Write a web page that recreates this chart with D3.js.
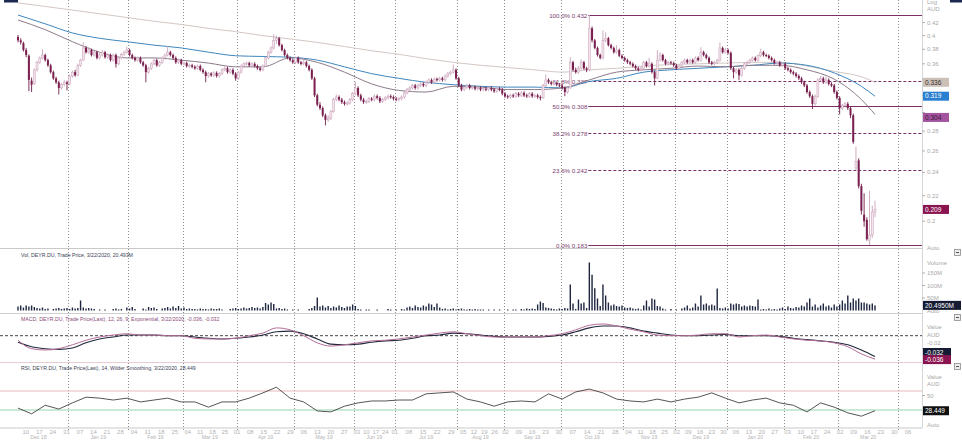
<!DOCTYPE html>
<html><head><meta charset="utf-8">
<script src="https://cdn.jsdelivr.net/npm/d3@7"></script>
<style>body{margin:0;background:#fff}svg{display:block;font-family:"Liberation Sans",Arial,sans-serif}</style>
</head><body><svg id="c" width="962" height="440"></svg>
<script>
// ---------- DATA ----------
// daily candles [open, high, low, close] (AUD), index 0 = early Dec 2018 ... 315 = 3/22/2020
const ohlc = [
[.398,.401,.390,.393],[.393,.396,.387,.390],[.389,.391,.377,.379],[.379,.382,.369,.372],[.371,.373,.325,.339],
[.338,.342,.324,.333],[.334,.354,.333,.352],[.352,.364,.350,.362],[.362,.370,.360,.368],[.368,.380,.366,.372],
[.372,.374,.363,.365],[.365,.367,.356,.358],[.358,.360,.347,.349],[.349,.351,.339,.341],[.341,.343,.334,.336],
[.336,.338,.321,.329],[.329,.335,.327,.333],[.333,.339,.331,.336],[.336,.338,.326,.334],[.334,.346,.332,.344],
[.344,.351,.342,.349],[.349,.352,.343,.345],[.345,.360,.344,.358],[.358,.367,.356,.365],[.365,.390,.364,.382],
[.382,.385,.374,.376],[.376,.383,.374,.379],[.379,.381,.370,.372],[.372,.378,.370,.376],[.376,.378,.366,.368],
[.368,.375,.366,.372],[.372,.379,.370,.376],[.376,.378,.367,.369],[.369,.374,.367,.372],[.372,.374,.363,.365],
[.365,.374,.363,.372],[.372,.374,.355,.360],[.360,.370,.358,.368],[.368,.375,.366,.373],[.373,.378,.371,.376],
[.376,.384,.374,.379],[.379,.381,.370,.372],[.372,.374,.366,.368],[.368,.370,.363,.365],[.365,.370,.363,.368],
[.368,.370,.360,.362],[.362,.364,.356,.358],[.358,.360,.336,.349],[.349,.356,.347,.354],[.354,.362,.352,.360],
[.360,.367,.358,.365],[.365,.367,.356,.358],[.358,.364,.356,.362],[.362,.370,.360,.368],[.368,.374,.366,.372],
[.372,.384,.370,.376],[.376,.378,.370,.372],[.372,.374,.366,.368],[.368,.370,.360,.362],[.362,.367,.360,.365],
[.365,.367,.358,.360],[.360,.363,.358,.361],[.361,.363,.355,.357],[.357,.360,.355,.358],[.358,.360,.354,.356],
[.356,.358,.352,.354],[.354,.359,.352,.357],[.357,.359,.350,.352],[.352,.354,.347,.349],[.349,.351,.336,.344],
[.344,.349,.342,.347],[.347,.349,.343,.345],[.345,.350,.343,.348],[.348,.350,.342,.344],[.344,.349,.342,.347],
[.347,.354,.345,.352],[.352,.356,.350,.354],[.354,.356,.347,.349],[.349,.354,.347,.352],[.352,.354,.345,.347],
[.347,.349,.338,.341],[.341,.351,.339,.349],[.349,.359,.347,.357],[.357,.362,.355,.360],[.360,.363,.358,.361],
[.361,.363,.356,.358],[.358,.362,.356,.360],[.360,.362,.355,.357],[.357,.359,.352,.354],[.354,.356,.350,.352],
[.352,.359,.350,.357],[.357,.370,.356,.368],[.368,.378,.366,.376],[.376,.384,.374,.382],[.382,.402,.380,.393],
[.393,.400,.388,.396],[.396,.398,.384,.386],[.386,.388,.377,.379],[.379,.381,.370,.372],[.372,.374,.366,.368],
[.368,.370,.363,.365],[.365,.367,.360,.362],[.362,.370,.360,.368],[.368,.370,.360,.362],[.362,.364,.358,.360],
[.360,.365,.358,.362],[.362,.364,.355,.357],[.357,.359,.350,.352],[.352,.354,.339,.341],[.341,.343,.318,.320],
[.320,.322,.307,.309],[.309,.312,.303,.305],[.305,.307,.295,.297],[.297,.299,.286,.292],[.292,.297,.290,.294],
[.294,.303,.292,.301],[.301,.317,.300,.315],[.315,.321,.313,.318],[.318,.320,.313,.315],[.315,.317,.310,.312],
[.312,.314,.308,.310],[.310,.313,.308,.311],[.311,.317,.309,.315],[.315,.324,.313,.322],[.322,.337,.320,.329],
[.329,.331,.318,.320],[.320,.322,.313,.315],[.315,.317,.310,.312],[.312,.315,.310,.313],[.313,.318,.311,.316],
[.316,.318,.313,.315],[.315,.321,.313,.319],[.319,.321,.315,.317],[.317,.319,.311,.313],[.313,.317,.311,.315],
[.315,.319,.313,.317],[.317,.321,.315,.319],[.319,.321,.316,.318],[.318,.320,.314,.316],[.316,.318,.313,.315],
[.315,.318,.313,.316],[.316,.320,.314,.318],[.318,.325,.316,.323],[.323,.329,.321,.327],[.327,.331,.325,.329],
[.329,.334,.327,.332],[.332,.334,.327,.329],[.329,.334,.327,.332],[.332,.336,.330,.334],[.334,.336,.330,.332],
[.332,.338,.330,.336],[.336,.341,.334,.339],[.339,.341,.334,.336],[.336,.342,.334,.340],[.340,.342,.337,.339],
[.339,.343,.337,.341],[.341,.343,.337,.339],[.339,.346,.337,.344],[.344,.349,.342,.347],[.347,.351,.345,.349],
[.349,.359,.347,.352],[.352,.354,.339,.341],[.341,.343,.330,.332],[.332,.334,.325,.327],[.327,.332,.325,.330],
[.330,.334,.328,.332],[.332,.334,.327,.329],[.329,.332,.327,.330],[.330,.332,.326,.328],[.328,.331,.326,.329],
[.329,.331,.325,.327],[.327,.330,.325,.328],[.328,.330,.325,.327],[.327,.331,.325,.329],[.329,.331,.325,.327],
[.327,.329,.323,.325],[.325,.330,.323,.328],[.328,.330,.325,.327],[.327,.329,.320,.322],[.322,.324,.317,.319],
[.319,.321,.316,.318],[.318,.322,.316,.320],[.320,.322,.317,.319],[.319,.324,.317,.322],[.322,.324,.318,.320],
[.320,.325,.318,.323],[.323,.325,.318,.320],[.320,.322,.317,.319],[.319,.324,.317,.322],[.322,.324,.317,.319],
[.319,.322,.317,.320],[.320,.322,.316,.318],[.318,.320,.314,.317],[.317,.334,.316,.332],[.332,.346,.330,.339],
[.339,.341,.334,.336],[.336,.338,.332,.334],[.334,.337,.332,.335],[.335,.337,.331,.333],[.333,.335,.330,.332],
[.332,.334,.327,.329],[.329,.331,.319,.324],[.324,.331,.322,.329],[.329,.369,.328,.362],[.362,.364,.350,.352],
[.352,.355,.347,.349],[.349,.357,.347,.354],[.354,.366,.352,.362],[.362,.364,.352,.354],[.354,.356,.349,.352],
[.352,.432,.350,.411],[.411,.414,.390,.393],[.393,.395,.380,.382],[.382,.384,.370,.372],[.372,.374,.366,.368],
[.368,.408,.366,.393],[.393,.405,.390,.396],[.396,.398,.384,.386],[.386,.388,.380,.382],[.382,.384,.374,.376],
[.376,.386,.374,.379],[.379,.381,.369,.371],[.371,.373,.366,.368],[.368,.370,.363,.365],[.365,.367,.360,.362],
[.362,.364,.358,.360],[.360,.362,.355,.357],[.357,.359,.352,.354],[.354,.356,.350,.352],[.352,.357,.350,.354],
[.354,.364,.352,.362],[.362,.364,.355,.357],[.357,.368,.355,.360],[.360,.362,.347,.349],[.349,.351,.332,.341],
[.341,.379,.340,.365],[.365,.376,.363,.372],[.372,.374,.363,.365],[.365,.367,.358,.360],[.360,.364,.358,.362],
[.362,.364,.359,.361],[.361,.363,.356,.358],[.358,.360,.352,.354],[.354,.359,.352,.357],[.357,.364,.355,.362],
[.362,.367,.360,.365],[.365,.367,.360,.362],[.362,.367,.360,.365],[.365,.367,.360,.362],[.362,.370,.360,.368],
[.368,.370,.363,.365],[.365,.383,.363,.376],[.376,.378,.370,.372],[.372,.374,.366,.368],[.368,.370,.360,.362],
[.362,.364,.358,.360],[.360,.364,.358,.362],[.362,.367,.360,.365],[.365,.390,.363,.382],[.382,.384,.374,.376],
[.376,.382,.374,.379],[.379,.381,.373,.375],[.375,.377,.352,.354],[.354,.356,.341,.349],[.349,.354,.347,.352],
[.352,.354,.339,.345],[.345,.356,.343,.354],[.354,.362,.352,.360],[.360,.364,.358,.362],[.362,.367,.360,.365],
[.365,.370,.363,.368],[.368,.370,.363,.365],[.365,.373,.363,.371],[.371,.381,.369,.376],[.376,.378,.370,.372],
[.372,.374,.369,.371],[.371,.373,.366,.368],[.368,.370,.363,.365],[.365,.367,.359,.361],[.361,.364,.359,.362],
[.362,.364,.356,.358],[.358,.362,.356,.360],[.360,.362,.352,.354],[.354,.356,.350,.352],[.352,.354,.347,.349],
[.349,.351,.345,.347],[.347,.349,.342,.344],[.344,.346,.339,.341],[.341,.343,.334,.336],[.336,.338,.330,.332],
[.332,.334,.322,.324],[.324,.326,.317,.319],[.319,.321,.304,.310],[.310,.321,.308,.319],[.319,.341,.317,.339],
[.339,.344,.337,.341],[.341,.343,.334,.336],[.336,.343,.334,.339],[.339,.341,.332,.334],[.334,.336,.330,.332],
[.332,.334,.322,.324],[.324,.326,.315,.317],[.317,.319,.298,.305],[.305,.310,.303,.308],[.308,.312,.306,.310],
[.310,.312,.303,.305],[.305,.307,.294,.297],[.297,.299,.267,.269],[.244,.264,.242,.250],[.251,.253,.226,.228],
[.228,.230,.205,.208],[.205,.222,.196,.200],[.201,.203,.186,.187],[.186,.224,.183,.190],[.190,.212,.188,.207],
[.207,.216,.203,.209]
];
// volume, millions
const volume = [
16,20,12,20,16,20,14, 10,8,12,6,8,0,6,8,10,6,8,10,6,12,8,10, 40, 12,8,10,8,6, 0,4,0, 4,0,0,6,8,4,6,0,
12,8,14,6, 0,0, 8,4,14,10,12, 6,0,8, 10,14,8,16,10,18,8,12,6, 8,6,6,4,8,6,6,4,8,6,6,8,4, 0,0,
6,8,10,6,8,12,8,10,14,10,12,8,14, 30,24,32,26, 8,10,6,8, 4,0,4,0,4, 0,0,0, 6,10,18,52,16,
20,12,18,10,16,12,20,14,10,16, 16,24,18, 6,4,0,4,4,0, 0,4,0,0,0,6,4,0, 4,0,6,4,
12,16,10,20,14,12,20,16,28,24,14,28,12, 6,8,4,6,8,4,6,8,4,4,6,4,6,4,4, 4,0,4,0,4,
0,4,0,0,4,0,4,4,0,6,4,8,6,8,6, 24,36,30, 12,10,8,6,4,8, 6,10,8, 104,28,6,44,28,32,10,
192,143,89,48,18,104,60,32,20,24,18,16,20,12,10,12,8, 6,8,4, 20,40,16,48,44,18,16,8, 4,0,6,0,4,0,
8,12,20,8,12,28,16,60, 24,28,20,24,20, 88, 10,8,12,8, 28,24,28,26, 16,20,16,20,18,16, 44,
4,6,4,8,4,6,4, 8,12,6,16,10,8,14, 12,20,16,32, 48, 16,24,12,20, 28, 16,20,12,24, 16,24,
40,28,60,32,48,40,48,32,32,28,24,28,20.493
];
// moving averages read every 10 sessions (+ last)
const maIdx = [0,10,20,30,40,50,60,70,80,90,100,110,120,130,140,150,160,170,180,190,200,210,220,230,240,250,260,270,280,290,300,310,315];
const maLong = [.452,.446,.440,.434,.428,.422,.417,.411,.406,.400,.395,.390,.384,.378,.373,.367,.362,.358,.355,.352,.349,.352,.354,.357,.359,.360,.361,.362,.362,.357,.350,.343,.336];
const maMid = [.432,.418,.404,.396,.391,.386,.382,.376,.371,.370,.369,.365,.356,.347,.341,.336,.333,.331,.330,.330,.329,.337,.341,.349,.352,.354,.356,.358,.361,.358,.348,.331,.319];
const maShort = [.424,.409,.391,.376,.368,.368,.365,.361,.356,.356,.368,.362,.349,.334,.326,.324,.331,.330,.327,.327,.329,.339,.349,.352,.354,.357,.356,.358,.358,.352,.340,.315,.298];
const maTags = ["0.336","0.319","0.304"];
// indicators read every 5 sessions
const macd = [-0.007,-0.020,-0.022,-0.020,-0.014,-0.007,-0.002,0.001,0.003,0.001,0.001,0,0,-0.004,-0.005,-0.005,-0.004,0,0.004,0.012,0.009,0,-0.011,-0.016,-0.014,-0.011,-0.008,-0.007,-0.005,-0.002,0.001,0.004,0.006,0.003,0,-0.002,-0.002,-0.002,-0.002,0,0.003,0.009,0.016,0.018,0.015,0.010,0.006,0.001,0,0,0.001,0.003,0.003,-0.002,0,0.001,-0.002,-0.005,-0.007,-0.008,-0.011,-0.017,-0.028,-0.036];
const signal = [-0.010,-0.017,-0.020,-0.021,-0.019,-0.011,-0.005,-0.002,0.001,0.001,0.001,0,0,-0.002,-0.004,-0.005,-0.004,-0.002,0.001,0.006,0.007,0.003,-0.005,-0.013,-0.014,-0.013,-0.010,-0.008,-0.007,-0.004,0,0.001,0.004,0.003,0.001,-0.001,-0.002,-0.002,-0.002,-0.001,0.001,0.006,0.012,0.015,0.015,0.012,0.007,0.004,0.001,0,0,0.001,0.002,0,0,0,-0.001,-0.004,-0.006,-0.008,-0.010,-0.014,-0.022,-0.032];
const rsi = [34,22,40,32,45,57,55,51,55,47,51,55,47,47,36,47,47,55,66,78,55,47,28,26,38,45,49,49,51,51,64,66,68,53,47,38,47,49,47,64,53,68,74,66,53,49,47,53,47,53,57,66,55,45,51,55,45,40,26,45,36,24,17,28.449];
// fibonacci retracement
const fibPct = ["100.0%","61.8%","50.0%","38.2%","23.6%","0.0%"];
const fibVal = [0.432,0.337,0.308,0.278,0.242,0.183];
const fibStartIdx = 210;
// axes
const priceTicks = ["0.42","0.4","0.38","0.36","0.34","0.32","0.3","0.28","0.26","0.24","0.22","0.2"];
const volTicks = [150,100,50];
const monthLabels = ["Dec 18","Jan 19","Feb 19","Mar 19","Apr 19","May 19","Jun 19","Jul 19","Aug 19","Sep 19","Oct 19","Nov 19","Dec 19","Jan 20","Feb 20","Mar 20","Apr 20"];
const monthStart = [-3,19,41,61,81,102,124,139,162,179,200,223,242,261,282,302,324,346];
const monthDays = [31,31,28,31,30,31,30,31,31,30,31,30,31,31,29,31,30];
const weekTicks = [["10","17","24","31"],["07","14","21","28"],["04","11","18","25"],["04","11","18","25"],["01","08","15","22","29"],["06","13","20","27"],["03","10","17","24"],["01","08","15","22","29"],["05","12","19","26"],["02","09","16","23","30"],["07","14","21","28"],["04","11","18","25"],["02","09","16","23","30"],["06","13","20","27"],["03","10","17","24"],["02","09","16","23","30"],["06","13"]];
const titles = ["Vol, DEYR.DU, Trade Price, 3/22/2020, 20.493M",
 "MACD, DEYR.DU, Trade Price(Last), 12, 26, 9, Exponential, 3/22/2020, -0.036, -0.032",
 "RSI, DEYR.DU, Trade Price(Last), 14, Wilder Smoothing, 3/22/2020, 28.449"];

// ---------- DRAW ----------
const svg = d3.select("#c");
const AX = 922;
const x = d3.scaleLinear().domain([0,315]).range([18,875]);
const yP = d3.scaleLog().domain([0.183,0.432]).range([245,15]);
const yV = d3.scaleLinear().domain([0,240]).range([310.5,250.5]);
const yM = d3.scaleLinear().domain([-0.036,0]).range([359.1,335.7]);
const yR = d3.scaleLinear().domain([0,100]).range([424.25,376.75]);
const sIdx = d3.range(0,316,5); sIdx[sIdx.length-1]=315;

// pane separators
[[248.5,"#c9c9c9"],[313.5,"#cfcfcf"],[362.5,"#e6cdd4"],[428,"#c9c9c9"]].forEach(([y,c])=>
  svg.append("line").attr("x1",0).attr("x2",AX).attr("y1",y).attr("y2",y).attr("stroke",c).attr("stroke-width",1.2));
svg.append("line").attr("x1",AX+0.5).attr("x2",AX+0.5).attr("y1",0).attr("y2",428).attr("stroke","#d6d6d6");

// month grid
monthStart.slice(1,-1).forEach(s=>{
  const gx = Math.round(x(s-0.5))+0.5;
  svg.append("line").attr("x1",gx).attr("x2",gx).attr("y1",0).attr("y2",430)
    .attr("stroke","#8e8e8e").attr("stroke-dasharray","1,2");
});

// RSI levels
svg.append("line").attr("x1",0).attr("x2",AX).attr("y1",yR(70)).attr("y2",yR(70)).attr("stroke","#eab8bd").attr("stroke-width",1.2);
svg.append("line").attr("x1",0).attr("x2",AX).attr("y1",yR(30)).attr("y2",yR(30)).attr("stroke","#98d6ae").attr("stroke-width",1.2);
// MACD zero
svg.append("line").attr("x1",0).attr("x2",AX).attr("y1",yM(0)).attr("y2",yM(0)).attr("stroke","#444").attr("stroke-dasharray","3,2");

// fibonacci
const fx0 = x(fibStartIdx)-1;
fibVal.forEach((v,i)=>{
  const y = Math.round(yP(v))+0.5;
  const dashed = (i===1||i===3||i===4);
  svg.append("line").attr("x1",fx0).attr("x2",AX).attr("y1",y).attr("y2",y)
    .attr("stroke","#7c2f66").attr("stroke-width",1).attr("stroke-dasharray",dashed?"3,2":null);
  svg.append("text").attr("x",fx0-1).attr("y",y+2).attr("text-anchor","end")
    .attr("font-size",6.2).attr("fill","#7c3a6c").text(fibPct[i]+"  "+v.toFixed(3));
});

// moving averages
const maLine = d3.line().x((d,i)=>x(maIdx[i])).y(d=>yP(d)).curve(d3.curveMonotoneX);
[[maLong,"#d3c8c4"],[maMid,"#3f87bd"],[maShort,"#8d7b8b"]].forEach(([arr,c])=>
  svg.append("path").attr("d",maLine(arr)).attr("fill","none").attr("stroke",c).attr("stroke-width",1));

// candles
const cg = svg.append("g");
ohlc.forEach((d,i)=>{
  const [o,h,l,c] = d;
  const up = c>=o;
  const cx = x(i);
  const col = up ? "#c9a2b9" : "#6f1c47";
  cg.append("line").attr("x1",cx).attr("x2",cx).attr("y1",yP(h)).attr("y2",yP(l)).attr("stroke",col).attr("stroke-width",0.9);
  const y1 = yP(Math.max(o,c)), y2 = yP(Math.min(o,c));
  cg.append("rect").attr("x",cx-1).attr("y",y1).attr("width",2).attr("height",Math.max(1,y2-y1))
    .attr("fill",up?"#f3e4ec":"#7a1f4f").attr("stroke",up?"#c9a2b9":"none").attr("stroke-width",0.5);
});

// volume
svg.append("g").selectAll("rect").data(volume).join("rect")
  .attr("x",(d,i)=>x(i)-0.7).attr("width",1.4)
  .attr("y",d=>yV(d)).attr("height",d=>yV(0)-yV(d)).attr("fill","#1e2640");

// MACD
const macdLine = d3.line().x((d,i)=>x(sIdx[i])).y(d=>yM(d)).curve(d3.curveMonotoneX);
svg.append("path").attr("d",macdLine(signal)).attr("fill","none").attr("stroke","#22283c").attr("stroke-width",1.1);
svg.append("path").attr("d",macdLine(macd)).attr("fill","none").attr("stroke","#b56d97").attr("stroke-width",1);

// RSI
const rsiLine = d3.line().x((d,i)=>x(sIdx[i])).y(d=>yR(d));
svg.append("path").attr("d",rsiLine(rsi)).attr("fill","none").attr("stroke","#2a2a2a").attr("stroke-width",0.8);

// titles
[[titles[0],257,"#3a3f55"],[titles[1],321,"#8a4b78"],[titles[2],370,"#3a3f55"]].forEach(([t,y,c])=>
  svg.append("text").attr("x",21).attr("y",y).attr("font-size",5.2).attr("fill",c).text(t));

// value tags (positions)
const tagYs = [];
function tag(y,t,fill,color,w){
  tagYs.push(y);
  svg.append("rect").attr("x",AX+1).attr("y",y-4.5).attr("width",w).attr("height",9).attr("fill",fill);
  svg.append("text").attr("x",AX+3).attr("y",y+2.3).attr("font-size",6.5).attr("fill",color).text(t);
}

// right axis
const axTxt = (y,t,c="#a8a8a8",fs=6)=>svg.append("text").attr("x",AX+5).attr("y",y).attr("font-size",fs).attr("fill",c).text(t);
axTxt(4,"Log"); axTxt(11,"AUD");
const priceTagYs = [yP(maLong[maLong.length-1]), yP(maMid[maMid.length-1]), yP(maShort[maShort.length-1])+3, yP(ohlc[ohlc.length-1][3])];
priceTicks.forEach(t=>{
  const y = yP(+t);
  svg.append("line").attr("x1",AX).attr("x2",AX+3).attr("y1",y).attr("y2",y).attr("stroke","#b0b0b0");
  if (priceTagYs.every(ty=>Math.abs(ty-y)>5)) axTxt(y+2,t);   // hidden behind value tags in the original
});
axTxt(250,"Auto");
axTxt(265,"Volume");
volTicks.forEach(v=>{ const y=yV(v);
  svg.append("line").attr("x1",AX).attr("x2",AX+3).attr("y1",y).attr("y2",y).attr("stroke","#b0b0b0");
  axTxt(y+2, v+"M"); });
axTxt(313,"Auto");
axTxt(329,"Value"); axTxt(337,"AUD");
svg.append("line").attr("x1",AX).attr("x2",AX+3).attr("y1",yM(-0.02)).attr("y2",yM(-0.02)).attr("stroke","#b0b0b0");
axTxt(yM(-0.02)-3.5,"-0.02");
axTxt(379,"Value"); axTxt(386,"AUD");
svg.append("line").attr("x1",AX).attr("x2",AX+3).attr("y1",yR(50)-5).attr("y2",yR(50)-5).attr("stroke","#b0b0b0");
axTxt(yR(50)-3,"50");
axTxt(427,"Auto");

tag(priceTagYs[0],maTags[0],"#cbbfb6","#333",26);
tag(priceTagYs[1],maTags[1],"#2a7fd0","#fff",26);
tag(priceTagYs[2],maTags[2],"#a4539e","#3a1a38",26);
tag(priceTagYs[3],ohlc[ohlc.length-1][3].toFixed(3),"#8a1450","#fff",26);
tag(yV(volume[volume.length-1]),"20.4950M","#151b33","#fff",38);
tag(yM(signal[signal.length-1])-4,signal[signal.length-1].toFixed(3),"#151b33","#fff",28);
tag(yM(macd[macd.length-1])+0.5,macd[macd.length-1].toFixed(3),"#8a1450","#fff",28);
tag(yR(rsi[rsi.length-1]),rsi[rsi.length-1].toFixed(3),"#111","#fff",26);

// pane buttons
[253,318,367].forEach(y=>{
  svg.append("rect").attr("x",954.5).attr("y",y-3.5).attr("width",6).attr("height",6).attr("fill","#ededed").attr("stroke","#8c8c8c").attr("stroke-width",0.8);
  svg.append("line").attr("x1",956).attr("x2",959).attr("y1",y-0.5).attr("y2",y-0.5).attr("stroke","#555");
});
svg.append("rect").attr("x",4).attr("y",0).attr("width",14).attr("height",2.5).attr("fill","#1c2a52");
svg.append("rect").attr("x",950).attr("y",0).attr("width",12).attr("height",2.5).attr("fill","#1c2a52");

// bottom time axis
const ag = svg.append("g").attr("font-size",6).attr("fill","#b3b3b3").attr("text-anchor","middle");
weekTicks.forEach((wk,m)=>{
  const s = monthStart[m], e = monthStart[m+1];
  wk.forEach(d=>{
    const xi = x(s-0.5 + (+d-1)/monthDays[m]*(e-s));
    if (xi>22 && xi<AX) ag.append("text").attr("x",xi).attr("y",434).text(d);
  });
  const mc = x((s+e)/2-0.5);
  if (mc>22 && mc<AX) ag.append("text").attr("x",mc).attr("y",439.4).attr("font-size",5.2).text(monthLabels[m]);
});
</script></body></html>
